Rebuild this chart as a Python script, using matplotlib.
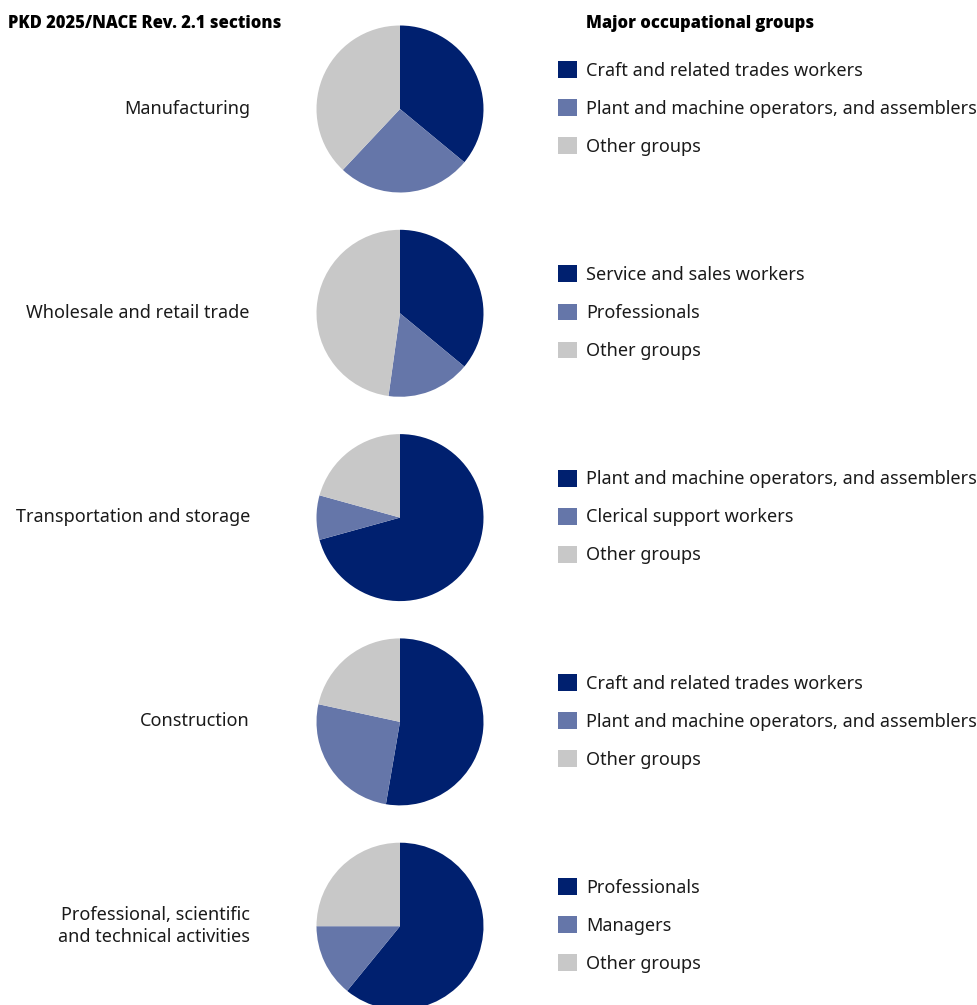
import matplotlib
matplotlib.use("Agg")
import matplotlib.pyplot as plt

# data (shares in %, clockwise from 12 o'clock)
sections = [
    "Manufacturing",
    "Wholesale and retail trade",
    "Transportation and storage",
    "Construction",
    "Professional, scientific\nand technical activities",
]
shares = [
    [36.0, 26.0, 38.0],
    [36.0, 16.2, 47.8],
    [70.7, 8.6, 20.7],
    [52.7, 25.7, 21.6],
    [60.9, 14.1, 25.0],
]
groups = [
    ["Craft and related trades workers", "Plant and machine operators, and assemblers", "Other groups"],
    ["Service and sales workers", "Professionals", "Other groups"],
    ["Plant and machine operators, and assemblers", "Clerical support workers", "Other groups"],
    ["Craft and related trades workers", "Plant and machine operators, and assemblers", "Other groups"],
    ["Professionals", "Managers", "Other groups"],
]
colors = ["#00206f", "#6576a9", "#c8c8c8"]

plt.rcParams['font.family'] = ['Noto Sans', 'DejaVu Sans']

W, H = 977, 1005
fig = plt.figure(figsize=(W / 100, H / 100), dpi=100)
fig.patch.set_facecolor("white")

# pixel helpers
def fx(px):
    return px / W

def fy(py):
    return 1 - py / H

fig.text(fx(8), fy(23), "PKD 2025/NACE Rev. 2.1 sections", fontsize=11.9,
         fontweight="heavy", family=["Open Sans", "DejaVu Sans"], ha="left", va="center")
fig.text(fx(586), fy(23), "Major occupational groups", fontsize=11.9,
         fontweight="heavy", family=["Open Sans", "DejaVu Sans"], ha="left", va="center")

r = 83.5
cx = 400
fs = 13
for i, (name, vals, labs) in enumerate(zip(sections, shares, groups)):
    cy = 109 + 204.3 * i
    ax = fig.add_axes([fx(cx - r), fy(cy + r), 2 * r / W, 2 * r / H])
    wedges, _ = ax.pie(vals, colors=colors, startangle=90, counterclock=False,
                       radius=1, wedgeprops=dict(linewidth=0))
    ax.set_xlim(-1, 1)
    ax.set_ylim(-1, 1)
    ax.set_aspect("auto")
    ax.axis("off")

    fig.text(fx(250), fy(cy - 0.5), name, fontsize=fs, ha="right", va="center",
             multialignment="right", color="#1a1a1a", linespacing=1.3)

    fig.legend(wedges, labs, loc="center left", bbox_to_anchor=(fx(558), fy(cy - 0.5)),
               frameon=False, fontsize=fs, handlelength=1.05, handleheight=1.05,
               handletextpad=0.5, labelspacing=1.08, borderpad=0, borderaxespad=0,
               labelcolor="#1a1a1a")

fig.savefig("out.png", dpi=100, facecolor="white")
